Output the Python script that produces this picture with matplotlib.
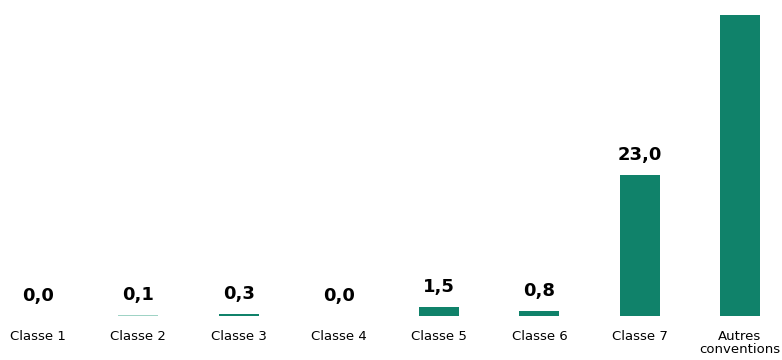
import numpy as np
import matplotlib.pyplot as plt

categories = ['Classe 1', 'Classe 2', 'Classe 3', 'Classe 4', 'Classe 5',
              'Classe 6', 'Classe 7', 'Autres\nconventions']
values = [0.0, 0.1, 0.3, 0.0, 1.5, 0.8, 23.0, 49.1]
# label of the last bar falls outside the chart in the original
labels = ['0,0', '0,1', '0,3', '0,0', '1,5', '0,8', '23,0', '']

green = '#10826a'
colors = [green, '#9fd3c5', green, green, green, green, green, green]

fig = plt.figure(figsize=(7.82, 3.6), dpi=100)
ax = fig.add_axes([0, 0.122, 1, 0.878])

x = np.arange(len(categories))
ax.bar(x, values, width=0.4, color=colors)

for xi, v, lab in zip(x, values, labels):
    if lab:
        ax.annotate(lab, (xi, v), xytext=(0, 8), textcoords='offset points',
                    ha='center', va='bottom', fontsize=13, fontweight='bold',
                    color='black')

ax.set_xlim(-0.38, 7.42)
ax.set_ylim(0, 51.5)
ax.set_xticks(x)
ax.set_xticklabels(categories, fontsize=9.5, linespacing=1.0)
ax.tick_params(axis='x', length=0, pad=10)
ax.set_yticks([])
for s in ax.spines.values():
    s.set_visible(False)

plt.savefig('out.png', dpi=100)
